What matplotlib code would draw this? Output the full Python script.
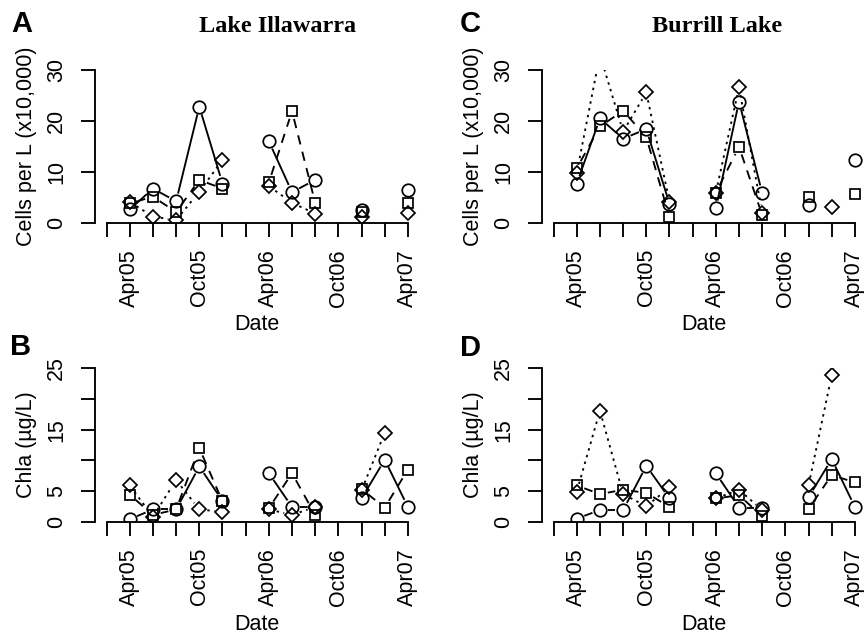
import numpy as np
import matplotlib
matplotlib.use("Agg")
import matplotlib.pyplot as plt
from matplotlib.collections import LineCollection

# ---------------- data ----------------
nan = np.nan
axis_months = ["Feb05", "Apr05", "Jun05", "Aug05", "Oct05", "Dec05", "Feb06",
               "Apr06", "Jun06", "Aug06", "Oct06", "Dec06", "Feb07", "Apr07"]
labelled_months = ["Apr05", "Oct05", "Apr06", "Oct06", "Apr07"]
sample_dates = ["Apr05", "Jun05", "Aug05", "Oct05", "Dec05", "Feb06", "Apr06",
                "Jun06", "Aug06", "Oct06", "Dec06", "Feb07", "Apr07"]

# Panel A: Lake Illawarra, cells per L (x10,000)
illawarra_cells_circle  = [2.6, 6.7, 4.2, 22.8, 7.7, nan, 16.0, 6.0, 8.4, nan, 2.5, nan, 6.5]
illawarra_cells_square  = [3.8, 5.1, 2.1, 8.4, 6.7, nan, 7.9, 21.9, 3.9, nan, 2.2, nan, 3.8]
illawarra_cells_diamond = [4.1, 1.2, 0.5, 6.1, 12.3, nan, 7.2, 3.9, 1.8, nan, 1.2, nan, 2.0]

# Panel B: Lake Illawarra, Chla (ug/L)
illawarra_chla_circle  = [0.4, 2.0, 2.0, 9.0, 3.4, nan, 7.9, 2.4, 2.4, nan, 3.8, 10.1, 2.4]
illawarra_chla_square  = [4.4, 1.1, 2.0, 12.0, 3.3, nan, 2.2, 7.9, 1.1, nan, 5.3, 2.3, 8.5]
illawarra_chla_diamond = [5.9, 0.8, 6.8, 2.0, 1.6, nan, 2.0, 1.1, 2.4, nan, 5.1, 14.5, nan]

# Panel C: Burrill Lake, cells per L (x10,000)
burrill_cells_circle  = [7.7, 20.5, 16.5, 18.4, 3.7, nan, 2.8, 23.8, 5.8, nan, 3.5, nan, 12.3]
burrill_cells_square  = [10.7, 18.9, 22.0, 16.8, 1.1, nan, 5.9, 14.9, 1.5, nan, 5.1, nan, 5.6]
burrill_cells_diamond = [9.8, 33.0, 17.9, 25.6, 4.1, nan, 5.9, 26.6, 2.0, nan, nan, 3.1, nan]

# Panel D: Burrill Lake, Chla (ug/L)
burrill_chla_circle  = [0.5, 1.9, 1.9, 9.1, 3.8, nan, 7.9, 2.3, 2.3, nan, 4.0, 10.2, 2.4]
burrill_chla_square  = [5.9, 4.5, 5.2, 4.7, 2.4, nan, 3.8, 4.3, 0.9, nan, 2.1, 7.6, 6.4]
burrill_chla_diamond = [4.9, 18.1, 4.5, 2.5, 5.6, nan, 3.8, 5.2, 1.9, nan, 5.9, 23.9, nan]

cells_ticks = [0, 10, 20, 30]
cells_tick_labels = ["0", "10", "20", "30"]
chla_ticks = [0, 5, 10, 15, 20, 25]
chla_tick_labels = ["0", "5", "", "15", "", "25"]

# ---------------- style ----------------
SANS = ["Liberation Sans", "DejaVu Sans"]
SERIF = ["Liberation Serif", "DejaVu Serif"]
plt.rcParams["font.family"] = SANS

W, H = 865, 633
fig = plt.figure(figsize=(W / 100, H / 100), dpi=100)

month_pos = {m: 1 + 2 * i for i, m in enumerate(axis_months)}
x = [month_pos[d] for d in sample_dates]

LW = 1.35
FS = 15.5
GAP = 8.0  # px gap between line ends and point centres (R type="b")


def fx(px):
    return px / W


def fy(py):
    return (H - py) / H


def gapped_line(ax, xs, ys, ls):
    pts = ax.transData.transform(np.column_stack([xs, ys]).astype(float))
    inv = ax.transData.inverted()
    segs = []
    for i in range(len(xs) - 1):
        p0, p1 = pts[i], pts[i + 1]
        if not (np.all(np.isfinite(p0)) and np.all(np.isfinite(p1))):
            continue
        d = p1 - p0
        L = np.hypot(d[0], d[1])
        if L <= 2 * GAP:
            continue
        a = p0 + d * GAP / L
        b = p1 - d * GAP / L
        segs.append(inv.transform(np.array([a, b])))
    lc = LineCollection(segs, colors="k", linewidths=LW, linestyles=[ls])
    ax.add_collection(lc)


def panel(rect, circ, sq, dia, ticks, tick_labels, ylabel):
    ax = fig.add_axes(rect)
    ax.set_xlim(0, 28)
    ax.set_ylim(ticks[0], ticks[-1])
    series = [(circ, "o", 9, "solid"),
              (sq, "s", 7.5, (0, (5, 4))),
              (dia, "D", 7.3, (0, (1.3, 2.4)))]
    for ys, mk, ms, ls in series:
        gapped_line(ax, x, ys, ls)
        ax.plot(x, ys, linestyle="none", marker=mk, ms=ms, mfc="none",
                mec="k", mew=1.25)
    for s in ["top", "right"]:
        ax.spines[s].set_visible(False)
    ax.spines["left"].set_bounds(ticks[0], ticks[-1])
    ax.spines["bottom"].set_bounds(month_pos[axis_months[0]], month_pos[axis_months[-1]])
    for s in ["left", "bottom"]:
        ax.spines[s].set_linewidth(LW)
    ax.set_xticks([month_pos[m] for m in axis_months])
    ax.set_xticklabels([m if m in labelled_months else "" for m in axis_months],
                       rotation=90, fontsize=FS)
    ax.set_yticks(ticks)
    ax.set_yticklabels(tick_labels, rotation=90, fontsize=FS, va="center")
    ax.tick_params(axis="both", direction="out", length=10, width=LW)
    ax.tick_params(axis="x", pad=9)
    ax.tick_params(axis="y", pad=10)
    ax.set_xlabel("Date", fontsize=FS)
    ax.xaxis.set_label_coords(0.5, -0.60)
    ax.set_ylabel(ylabel, fontsize=FS)
    ax.yaxis.set_label_coords(-0.18, 0.5)
    return ax


axw = 324.5 / W
top_b, top_h = fy(222.7), 152.7 / H
bot_b, bot_h = fy(521.7), 153.4 / H
left_l, right_l = fx(95), fx(542)

panel([left_l, top_b, axw, top_h], illawarra_cells_circle, illawarra_cells_square,
      illawarra_cells_diamond, cells_ticks, cells_tick_labels, "Cells per L (x10,000)")
panel([right_l, top_b, axw, top_h], burrill_cells_circle, burrill_cells_square,
      burrill_cells_diamond, cells_ticks, cells_tick_labels, "Cells per L (x10,000)")
panel([left_l, bot_b, axw, bot_h], illawarra_chla_circle, illawarra_chla_square,
      illawarra_chla_diamond, chla_ticks, chla_tick_labels, "Chla (µg/L)")
panel([right_l, bot_b, axw, bot_h], burrill_chla_circle, burrill_chla_square,
      burrill_chla_diamond, chla_ticks, chla_tick_labels, "Chla (µg/L)")

# panel letters
for letter, px, py in [("A", 11, 32), ("C", 460, 32), ("B", 10, 355), ("D", 460, 356)]:
    fig.text(fx(px), fy(py), letter, fontsize=21, fontweight="bold",
             ha="left", va="baseline", family=SANS)

# titles
fig.text(fx(277.7), fy(32.5), "Lake Illawarra", fontsize=17.5, fontweight="bold",
         ha="center", va="baseline", family=SERIF)
fig.text(fx(717.5), fy(32.5), "Burrill Lake", fontsize=17.5, fontweight="bold",
         ha="center", va="baseline", family=SERIF)

fig.savefig("out.png", dpi=100)
